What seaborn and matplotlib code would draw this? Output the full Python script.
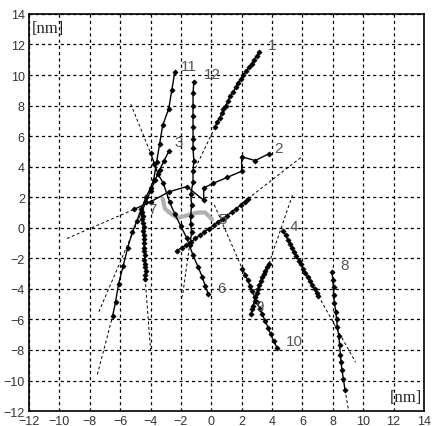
import matplotlib
matplotlib.use("Agg")
from matplotlib import pyplot as plt
import seaborn as sns
import pandas as pd
import numpy as np

# trajectories (nm)
t1_x = [0.25, 0.4, 0.55, 0.7, 0.8, 0.95, 1.1, 1.25, 1.45, 1.6, 1.75, 1.95, 2.1, 2.3, 2.5, 2.65, 2.8, 3.0, 3.15]
t1_y = [6.6, 6.95, 7.2, 7.5, 7.75, 8.0, 8.3, 8.65, 8.9, 9.2, 9.45, 9.75, 10.0, 10.25, 10.5, 10.75, 11.0, 11.25, 11.5]
t2_x = [-5.1, -4.0, -2.8, -1.6, -0.5, -0.5, 0.1, 1.05, 2.0, 2.0, 2.9, 3.8]
t2_y = [1.2, 1.7, 2.35, 2.7, 1.8, 2.6, 2.9, 3.3, 3.7, 4.65, 4.4, 4.85]
t3_x = [-4.6, -4.3, -4.0, -3.7, -3.4, -3.1, -2.8]
t3_y = [1.0, 1.7, 2.4, 3.1, 3.8, 4.4, 5.0]
t4_x = [4.75, 4.9, 5.05, 5.2, 5.3, 5.45, 5.6, 5.75, 5.9, 6.05, 6.2, 6.35, 6.5, 6.65, 6.8, 6.95, 7.05]
t4_y = [-0.2, -0.5, -0.8, -1.05, -1.3, -1.6, -1.85, -2.15, -2.4, -2.7, -2.95, -3.25, -3.5, -3.75, -4.0, -4.25, -4.45]
t5_x = [-2.25, -1.95, -1.65, -1.35, -1.05, -0.75, -0.45, -0.15, 0.15, 0.45, 0.75, 1.05, 1.35, 1.65, 1.95, 2.2, 2.4]
t5_y = [-1.5, -1.3, -1.15, -0.95, -0.7, -0.5, -0.25, -0.05, 0.15, 0.4, 0.6, 0.8, 1.05, 1.25, 1.5, 1.7, 1.9]
t6_x = [-4.0, -3.75, -3.5, -3.15, -2.75, -2.4, -2.0, -1.6, -1.2, -0.85, -0.6, -0.4, -0.2]
t6_y = [4.9, 4.2, 3.5, 2.9, 1.7, 0.9, 0.1, -0.7, -1.8, -2.6, -3.2, -3.8, -4.35]
t7_x = [-4.55, -4.5, -4.55, -4.5, -4.45, -4.5, -4.45, -4.4, -4.45, -4.4, -4.4, -4.35, -4.4, -4.35, -4.35, -4.3, -4.35, -4.35]
t7_y = [1.05, 0.8, 0.55, 0.3, 0.05, -0.2, -0.5, -0.75, -1.0, -1.3, -1.55, -1.8, -2.1, -2.35, -2.6, -2.85, -3.1, -3.35]
t8_x = [7.95, 8.0, 8.05, 8.05, 8.1, 8.2, 8.25, 8.3, 8.4, 8.45, 8.5, 8.55, 8.6, 8.7, 8.8]
t8_y = [-2.9, -3.4, -3.9, -4.4, -4.9, -5.5, -6.0, -6.5, -7.1, -7.7, -8.3, -8.8, -9.3, -9.9, -10.6]
t9_x = [2.6, 2.7, 2.75, 2.85, 2.9, 3.0, 3.1, 3.15, 3.25, 3.35, 3.45, 3.55, 3.7, 3.8]
t9_y = [-5.65, -5.35, -5.1, -4.8, -4.55, -4.3, -4.0, -3.75, -3.5, -3.25, -3.0, -2.8, -2.55, -2.35]
t10_x = [2.05, 2.25, 2.4, 2.55, 2.7, 2.85, 3.0, 3.2, 3.35, 3.55, 3.75, 3.9, 4.1, 4.35]
t10_y = [-2.7, -3.1, -3.45, -3.8, -4.15, -4.5, -4.85, -5.3, -5.65, -6.1, -6.55, -6.95, -7.4, -7.9]
t11_x = [-6.5, -6.3, -6.1, -5.8, -5.5, -5.2, -4.9, -4.6, -4.3, -4.0, -3.8, -3.6, -3.4, -3.2, -2.8, -2.6, -2.4]
t11_y = [-5.8, -4.85, -3.65, -2.5, -1.3, -0.3, 0.45, 1.25, 2.0, 2.6, 3.1, 4.3, 5.5, 6.7, 7.8, 9.0, 10.2]
t12_x = [-1.15, -1.2, -1.2, -1.2, -1.2, -1.2, -1.2, -1.15, -1.2, -1.2, -1.35, -1.3, -1.35, -1.35, -1.3, -1.4]
t12_y = [9.55, 8.8, 8.0, 7.3, 6.6, 5.8, 5.2, 4.4, 3.7, 3.0, 2.2, 1.5, 0.8, 0.25, -0.3, -1.1]

track_x = [t1_x, t2_x, t3_x, t4_x, t5_x, t6_x, t7_x, t8_x, t9_x, t10_x, t11_x, t12_x]
track_y = [t1_y, t2_y, t3_y, t4_y, t5_y, t6_y, t7_y, t8_y, t9_y, t10_y, t11_y, t12_y]

# straight-line fits, drawn dashed beyond the tracks
fit_x0 = [-1.05, -9.5, -7.4, 7.05, 2.4, -5.3, -4.35, 8.8, 3.8, 0.2, -7.5, -1.45]
fit_y0 = [3.9, -0.7, -5.5, -4.45, 1.9, 8.1, -3.35, -10.6, -2.35, 1.5, -9.6, -1.3]
fit_x1 = [0.25, -5.1, -4.6, 9.5, 5.9, -4.0, -4.0, 9.05, 5.4, 2.05, -6.5, -1.9]
fit_y1 = [6.6, 1.2, 1.0, -8.8, 4.6, 4.9, -8.0, -12.0, 2.3, -2.7, -5.8, -4.5]

# grey path
grey_x = [-3.2, -3.05, -2.7, -2.25, -1.8, -1.3, -0.85, -0.4, 0.05]
grey_y = [1.9, 1.25, 0.95, 0.65, 0.75, 0.9, 1.0, 1.0, 0.55]

labels = ["1", "2", "3", "4", "5", "6", "7", "8", "9", "10", "11", "12"]
label_x = [4.0, 4.4, -2.15, 5.45, 0.75, 0.65, -3.85, 8.75, 3.2, 5.45, -1.5, 0.05]
label_y = [11.95, 5.2, 5.6, 0.1, 0.55, -3.95, 1.2, -2.45, -5.1, -7.4, 10.6, 10.1]

ticks = list(range(-12, 15, 2))

df = pd.concat([pd.DataFrame({"x": tx, "y": ty, "track": i + 1})
                for i, (tx, ty) in enumerate(zip(track_x, track_y))])
fits = pd.DataFrame({"x": fit_x0 + fit_x1, "y": fit_y0 + fit_y1,
                     "track": list(range(1, 13)) * 2})

sns.set_theme(style="white")
plt.rcParams["font.family"] = ["Liberation Sans", "DejaVu Sans"]

fig = plt.figure(figsize=(4.33, 4.27), dpi=100)
ax = fig.add_axes([0.067, 0.035, 0.912, 0.93])

sns.lineplot(data=fits, x="x", y="y", units="track", estimator=None, sort=False,
             color="black", lw=0.7, linestyle=(0, (3, 2.5)), ax=ax)
sns.lineplot(x=grey_x, y=grey_y, sort=False, color="#b0b0b0", lw=3.0, ax=ax)
sns.lineplot(data=df, x="x", y="y", units="track", estimator=None, sort=False,
             color="black", lw=1.0, marker="D", markersize=2.7,
             markeredgecolor="black", markeredgewidth=0.4, ax=ax)

for s, lx, ly in zip(labels, label_x, label_y):
    ax.text(lx, ly, s, fontsize=11, color="#555555", ha="center", va="center")

ax.text(-11.8, 13.1, "[nm]", family="Liberation Serif", fontsize=12, va="center", color="#222")
ax.text(11.75, -11.1, "[nm]", family="Liberation Serif", fontsize=12, va="center", color="#222")

ax.set_xlim(-12, 14)
ax.set_ylim(-12, 14)
ax.set_xticks(ticks)
ax.set_yticks(ticks)
ax.set_xlabel("")
ax.set_ylabel("")
ax.grid(True, color="black", linestyle=(0, (2.5, 2.5)), linewidth=0.9)
ax.tick_params(labelsize=9, colors="#333333", length=0, pad=3)
for sp in ax.spines.values():
    sp.set_color("black")
    sp.set_linewidth(1.2)

plt.savefig("out.png", dpi=100)
